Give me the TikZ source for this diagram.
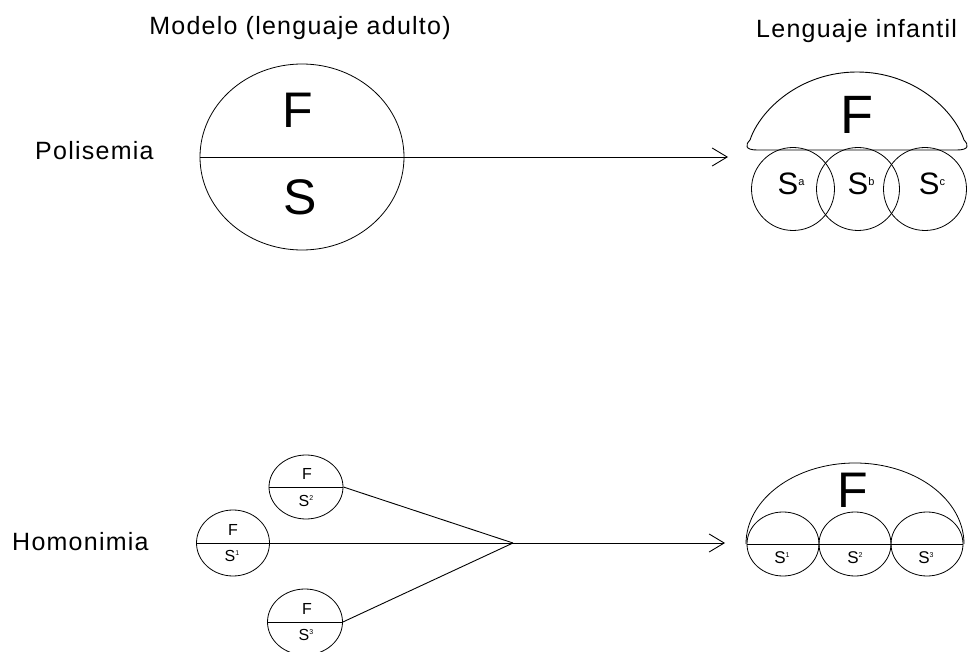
\documentclass[tikz,border=0pt]{standalone}
\usepackage{fontspec}
\setmainfont{Liberation Sans}
\newfontfamily\lblfont[LetterSpace=5]{Liberation Sans}
\usetikzlibrary{shapes.geometric,arrows.meta}
\begin{document}
\begin{tikzpicture}[x=1pt,y=-1pt,
  lbl/.style={font=\lblfont\fontsize{25}{25}\selectfont, anchor=base west, inner sep=0pt},
  circ/.style={ellipse, draw, inner sep=0pt, line width=0.8pt},
  ln/.style={line width=0.9pt},
  arr/.style={line width=0.9pt, -{Straight Barb[length=15pt,width=18pt,line width=0.9pt]}},
  big/.style={font=\fontsize{50}{50}\selectfont, inner sep=0pt},
  mid/.style={font=\fontsize{31}{31}\selectfont, inner sep=0pt},
  sml/.style={font=\fontsize{16}{16}\selectfont, inner sep=0pt},
  smr/.style={font=\fontsize{17}{17}\selectfont, inner sep=0pt}
]
\useasboundingbox (0,0) rectangle (970,652);

% headings
\node[lbl, anchor=base] (tmod) at (300,35) {Modelo (lenguaje adulto)};
\node[lbl] (tinf) at (756,38) {Lenguaje infantil};
\node[lbl] (tpol) at (35,160) {Polisemia};
\node[lbl] (thom) at (12,550) {Homonimia};

% ---- Polisemia, model
\node[circ, minimum width=204pt, minimum height=186pt] (bigc) at (302,157) {};
\node[big] (bF) at (298,110) {F};
\node[big] (bS) at (300,197) {S};
\coordinate (ptip) at (728,157);
\draw[arr] (bigc.west) -- (ptip);

% ---- Polisemia, child
\draw[line width=0.9pt] (757,150) -- (957,150)
  .. controls (969,150) and (969,145) .. (964,140)
  .. controls (954,110) and (914,72) .. (857,72)
  .. controls (800,72) and (760,110) .. (750,140)
  .. controls (745,145) and (745,150) .. (757,150) -- cycle;
\node[big, font=\fontsize{54}{54}\selectfont] (dF) at (857,115) {F};
\node[circ, minimum size=83pt] (sa) at (793,189) {};
\node[circ, minimum size=83pt] (sb) at (858,189) {};
\node[circ, minimum size=83pt] (sc) at (925,189) {};
\node[mid] (la) at (791,184) {S\raisebox{9pt}{\fontsize{11}{11}\selectfont a}};
\node[mid] (lb) at (861,184) {S\raisebox{9pt}{\fontsize{11}{11}\selectfont b}};
\node[mid] (lc) at (932,184) {S\raisebox{9pt}{\fontsize{11}{11}\selectfont c}};

% ---- Homonimia, model
\node[circ, minimum width=74pt, minimum height=64pt] (c1) at (306,487) {};
\node[circ, minimum width=73pt, minimum height=66pt] (c2) at (233,543) {};
\node[circ, minimum width=75pt, minimum height=66pt] (c3) at (305,622) {};
\draw[ln] (c1.west) -- (c1.east);
\draw[ln] (c3.west) -- (c3.east);
\node[sml] (f1) at (307,474) {F};
\node[sml] (s1) at (306,501) {S\raisebox{6pt}{\fontsize{7}{7}\selectfont 2}};
\node[sml] (f2) at (233,530) {F};
\node[sml] (s2) at (232,556) {S\raisebox{6pt}{\fontsize{7}{7}\selectfont 1}};
\node[sml] (f3) at (307,609) {F};
\node[sml] (s3) at (306,635) {S\raisebox{6pt}{\fontsize{7}{7}\selectfont 3}};
\coordinate (conv) at (513,543);
\coordinate (htip) at (725,543);
\draw[ln] (c1.east) -- (conv);
\draw[ln] (c3.east) -- (conv);
\draw[arr] (c2.west) -- (htip);

% ---- Homonimia, child
\node[circ, minimum width=72pt, minimum height=64pt] (r1) at (783,544) {};
\node[circ, minimum width=72pt, minimum height=64pt] (r2) at (855,544) {};
\node[circ, minimum width=72pt, minimum height=64pt] (r3) at (927,544) {};
\draw[ln] (r1.west) -- (r3.east);
\draw[line width=0.8pt] (746,544) arc[start angle=180, end angle=360, x radius=109, y radius=81];
\node[big] (hF) at (853,490) {F};
\node[smr] (t1) at (782,558) {S\raisebox{6pt}{\fontsize{7}{7}\selectfont 1}};
\node[smr] (t2) at (855,558) {S\raisebox{6pt}{\fontsize{7}{7}\selectfont 2}};
\node[smr] (t3) at (926,558) {S\raisebox{6pt}{\fontsize{7}{7}\selectfont 3}};
\end{tikzpicture}
\end{document}
